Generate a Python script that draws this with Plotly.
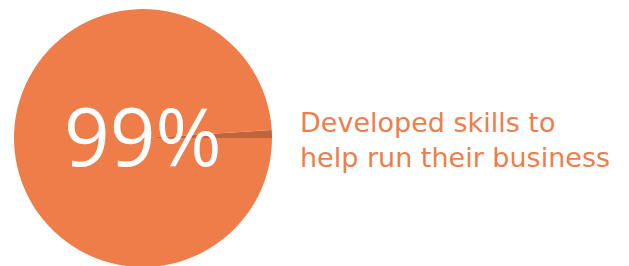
import plotly.graph_objects as go

labels = ["Did not develop skills", "Developed skills"]
values = [1, 99]
colors = ["#C2643A", "#EF7D4A"]
big_label = "99%"
caption = "Developed skills to<br>help run their business"

W, H = 629, 266
OFF = 8  # page body margin offset

fig = go.Figure(go.Pie(
    labels=labels, values=values, sort=False,
    direction="clockwise", rotation=90 - 3.6,
    marker=dict(colors=colors, line=dict(width=0)),
    textinfo="none", hoverinfo="skip", showlegend=False,
    domain=dict(x=[(14 - OFF) / W, (272 - OFF) / W],
                y=[(H - 259) / H, (H - 1) / H]),
))

fig.add_annotation(
    text=big_label, x=(143 - OFF) / W, y=(H - 135 + OFF) / H,
    xref="paper", yref="paper",
    xanchor="center", yanchor="middle", showarrow=False,
    font=dict(family="Open Sans", size=80, color="white"),
)
fig.add_annotation(
    text=caption, x=(298 - OFF) / W, y=(H - 140 + OFF) / H,
    xref="paper", yref="paper",
    xanchor="left", yanchor="middle", align="left", showarrow=False,
    font=dict(family="DejaVu Sans", size=27, color="#EF7D4A"),
)

fig.update_layout(
    width=W, height=H, margin=dict(l=0, r=0, t=0, b=0),
    paper_bgcolor="white", plot_bgcolor="white",
)
fig.write_html("out.html")
